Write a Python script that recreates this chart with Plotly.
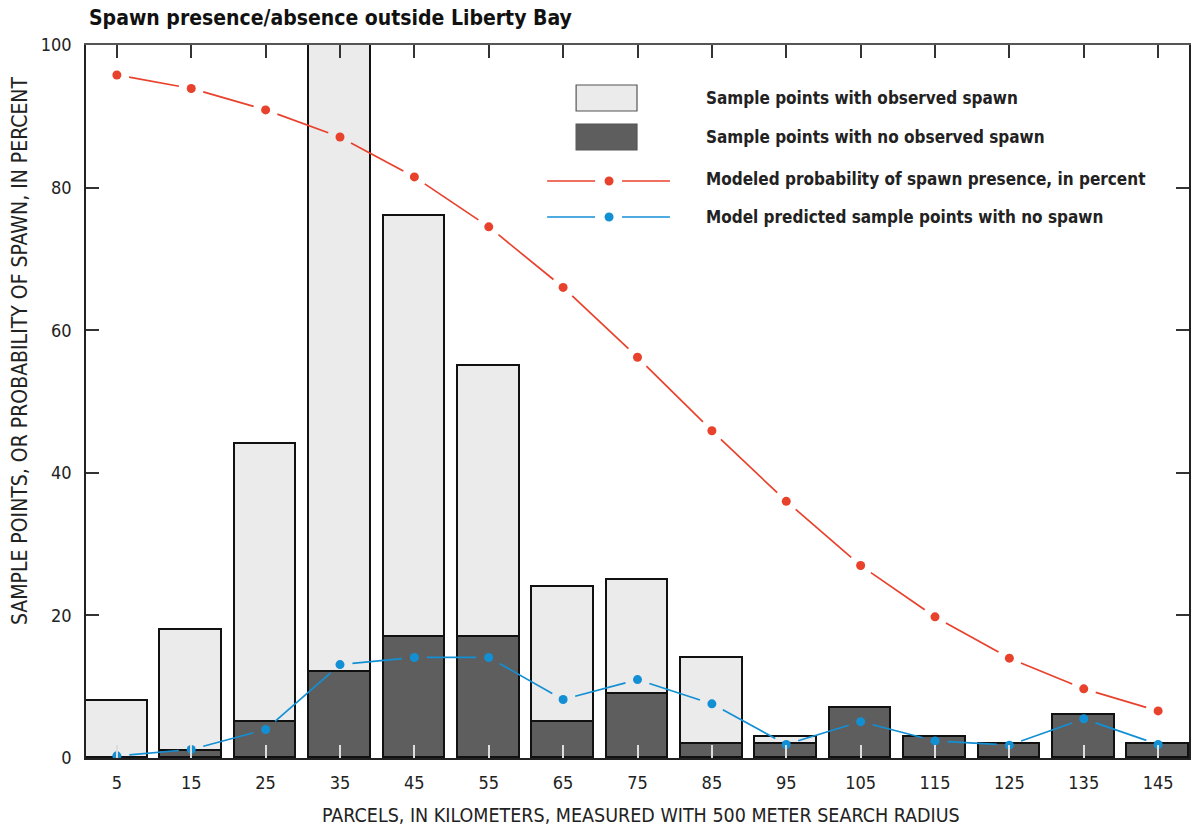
import math
import plotly.graph_objects as go

# ---------------- data ----------------
parcels = [5, 15, 25, 35, 45, 55, 65, 75, 85, 95, 105, 115, 125, 135, 145]
no_spawn = [0, 1, 5, 12, 17, 17, 5, 9, 2, 2, 7, 3, 2, 6, 2]
with_spawn = [8, 17, 39, 88, 59, 38, 19, 16, 12, 1, 0, 0, 0, 0, 0]
prob_presence = [95.8, 93.9, 90.9, 87.1, 81.5, 74.5, 66.0, 56.2, 45.9, 36.0, 27.0, 19.8, 14.0, 9.7, 6.6]
pred_no_spawn = [0.3, 1.2, 4.0, 13.1, 14.1, 14.1, 8.2, 11.0, 7.6, 1.9, 5.1, 2.4, 1.8, 5.5, 1.9]
y_ticks = [0, 20, 40, 60, 80, 100]

title = "Spawn presence/absence outside Liberty Bay"
x_title = "PARCELS, IN KILOMETERS, MEASURED WITH 500 METER SEARCH RADIUS"
y_title = "SAMPLE POINTS, OR PROBABILITY OF SPAWN, IN PERCENT"
legend_labels = [
    "Sample points with observed spawn",
    "Sample points with no observed spawn",
    "Modeled probability of spawn presence, in percent",
    "Model predicted sample points with no spawn",
]

# ---------------- layout constants ----------------
W, H = 1193, 830
ML, MR, MT, MB = 86, 2, 45, 72
PW, PH = W - ML - MR, H - MT - MB
XR = [0.85, 149.15]
YR = [0, 100]
RED = "#E8412C"
BLUE = "#138FD4"
LIGHT = "#EBEBEB"
DARK = "#5E5E5E"
FONT = "Liberation Sans Narrow, DejaVu Sans Condensed, Roboto, sans-serif"

px_x = PW / (XR[1] - XR[0])
px_y = PH / (YR[1] - YR[0])


def gapped(xs, ys, gap=12.5):
    X, Y = [], []
    for i in range(len(xs) - 1):
        x0, x1, y0, y1 = xs[i], xs[i + 1], ys[i], ys[i + 1]
        L = math.hypot((x1 - x0) * px_x, (y1 - y0) * px_y)
        f = gap / L
        if f < 0.5:
            X += [x0 + f * (x1 - x0), x1 - f * (x1 - x0), None]
            Y += [y0 + f * (y1 - y0), y1 - f * (y1 - y0), None]
    return X, Y


def px2paper(x, y):
    return (x - ML) / PW, (MT + PH - y) / PH


fig = go.Figure()
bar_line = dict(color="#111111", width=1.6)
fig.add_bar(x=parcels, y=no_spawn, marker=dict(color=DARK, line=bar_line), width=8.3, showlegend=False)
fig.add_bar(x=parcels, y=with_spawn, marker=dict(color=LIGHT, line=bar_line), width=8.3, showlegend=False)

for vals, col in [(prob_presence, RED), (pred_no_spawn, BLUE)]:
    gx, gy = gapped(parcels, vals)
    fig.add_scatter(x=gx, y=gy, mode="lines", line=dict(color=col, width=1.7), showlegend=False, hoverinfo="skip")
    fig.add_scatter(x=parcels, y=vals, mode="markers", marker=dict(color=col, size=9), showlegend=False)

# invisible trace for top axis
fig.add_scatter(x=parcels, y=[None] * len(parcels), xaxis="x2", showlegend=False, hoverinfo="skip")

# ---------------- legend (manual) ----------------
shapes = []
annotations = []
for (y0, y1), fill in [((85, 111), LIGHT), ((124, 150), DARK)]:
    a0, b0 = px2paper(577, y0)
    a1, b1 = px2paper(638, y1)
    shapes.append(dict(type="rect", xref="paper", yref="paper", x0=a0, x1=a1, y0=b1, y1=b0,
                       fillcolor=fill, line=dict(color="#555555", width=1.2)))
for yy, col in [(181, RED), (217, BLUE)]:
    for xa, xb in [(548, 596), (623, 671)]:
        a0, b = px2paper(xa, yy)
        a1, _ = px2paper(xb, yy)
        shapes.append(dict(type="line", xref="paper", yref="paper", x0=a0, x1=a1, y0=b, y1=b,
                           line=dict(color=col, width=1.7)))
    cx, cy = px2paper(610, yy)
    shapes.append(dict(type="circle", xref="paper", yref="paper", xsizemode="pixel", ysizemode="pixel",
                       xanchor=cx, yanchor=cy, x0=-4.5, x1=4.5, y0=-4.5, y1=4.5,
                       fillcolor=col, line=dict(width=0)))
for lab, yy in zip(legend_labels, [98, 137, 179, 217]):
    ax, ay = px2paper(705, yy)
    annotations.append(dict(text="<b>" + lab + "</b>", xref="paper", yref="paper", x=ax, y=ay,
                            xanchor="left", yanchor="middle", showarrow=False,
                            font=dict(family=FONT, size=17, color="#222222")))

tx, ty = px2paper(87, 18)
annotations.append(dict(text="<b>" + title + "</b>", xref="paper", yref="paper", x=tx, y=ty,
                        xanchor="left", yanchor="middle", showarrow=False,
                        font=dict(family=FONT, size=21, color="#111111")))
ax_, ay_ = px2paper(642, 815)
annotations.append(dict(text=x_title, xref="paper", yref="paper", x=ax_, y=ay_,
                        xanchor="center", yanchor="middle", showarrow=False,
                        font=dict(family=FONT, size=19.5, color="#222222")))
yx, yy_ = px2paper(20, 351)
annotations.append(dict(text=y_title, xref="paper", yref="paper", x=yx, y=yy_, textangle=-90,
                        xanchor="center", yanchor="middle", showarrow=False,
                        font=dict(family=FONT, size=21, color="#222222")))

fig.update_layout(
    width=W, height=H,
    margin=dict(l=ML, r=MR, t=MT, b=MB),
    barmode="stack",
    bargap=0,
    plot_bgcolor="white", paper_bgcolor="white",
    showlegend=False,
    shapes=shapes, annotations=annotations,
    font=dict(family=FONT, size=18, color="#222222"),
    xaxis=dict(range=XR, tickvals=parcels, ticks="inside", ticklen=13, tickwidth=1.5,
               tickcolor="#dddddd", showgrid=False, zeroline=False, showline=True,
               linecolor="#222222", linewidth=1.5, tickfont=dict(size=18), ticklabelstandoff=8),
    xaxis2=dict(range=XR, overlaying="x", side="top", tickvals=parcels, ticks="inside", ticklen=13,
                tickwidth=1.5, tickcolor="#333333", showticklabels=False, showgrid=False,
                zeroline=False, showline=True, linecolor="#555555", linewidth=1.5),
    yaxis=dict(range=YR, tickvals=y_ticks, ticks="inside", ticklen=13, tickwidth=1.5,
               tickcolor="#333333", mirror="ticks", showgrid=False, zeroline=False, showline=True,
               linecolor="#222222", linewidth=1.5, tickfont=dict(size=18), ticklabelstandoff=9),
)

fig.write_html("out.html", config={"displayModeBar": False},
               post_script="document.body.style.margin='0';document.body.style.padding='0';")
